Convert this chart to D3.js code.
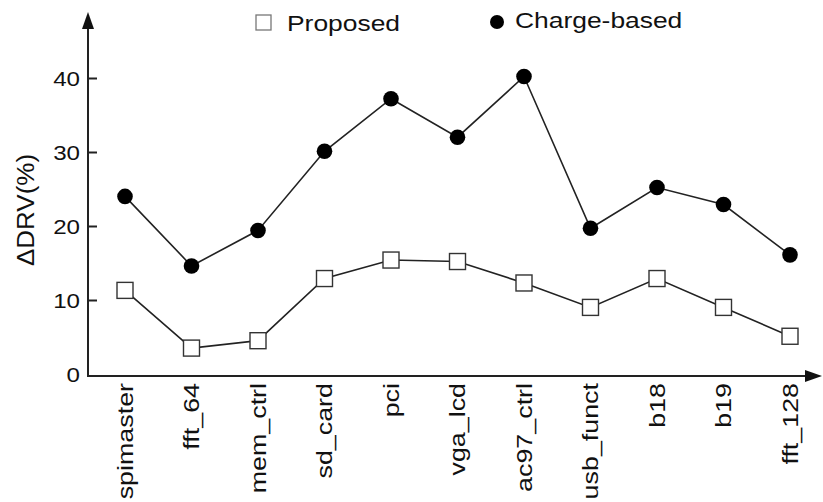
<!DOCTYPE html>
<html>
<head>
<script src="https://d3js.org/d3.v7.min.js"></script>
<style>
  body { margin: 0; background: #fff; }
  text { font-family: "Liberation Sans", Arial, sans-serif; fill: #111; }
</style>
</head>
<body>
<script>
var categories = ["spimaster", "fft_64", "mem_ctrl", "sd_card", "pci", "vga_lcd",
                  "ac97_ctrl", "usb_funct", "b18", "b19", "fft_128"];
var proposed = [11.3, 3.5, 4.5, 12.9, 15.4, 15.2, 12.3, 9.0, 12.9, 9.0, 5.1];
var chargeBased = [24.0, 14.6, 19.4, 30.1, 37.2, 32.0, 40.2, 19.7, 25.2, 22.9, 16.1];
var yTicks = [0, 10, 20, 30, 40];

var width = 823, height = 502;
var x0 = 88, y0 = 376;

var svg = d3.select("body").append("svg")
    .attr("width", width)
    .attr("height", height);

// the original lettering is wider than Liberation Sans, so stretch it a bit
function widen(sel, k) {
  sel.each(function() {
    var w = this.getComputedTextLength();
    d3.select(this).attr("textLength", w * k).attr("lengthAdjust", "spacingAndGlyphs");
  });
}

var x = d3.scalePoint().domain(categories).range([125, 790]);
var y = d3.scaleLinear().domain([0, 40]).range([374, 78]);

// axes with arrow heads
svg.append("line")
    .attr("x1", x0).attr("y1", y0 + 1).attr("x2", x0).attr("y2", 24)
    .attr("stroke", "#222").attr("stroke-width", 2);
svg.append("path")
    .attr("d", "M" + x0 + ",12L" + (x0 - 6) + ",29L" + (x0 + 6) + ",29Z")
    .attr("fill", "#111");
svg.append("line")
    .attr("x1", x0 - 1).attr("y1", y0).attr("x2", 810).attr("y2", y0)
    .attr("stroke", "#222").attr("stroke-width", 2);
svg.append("path")
    .attr("d", "M822," + y0 + "L805," + (y0 - 6) + "L805," + (y0 + 6) + "Z")
    .attr("fill", "#111");

var yAxis = d3.axisRight(y).tickValues(yTicks).tickSize(9).tickFormat(d3.format("d"));
var gy = svg.append("g").attr("transform", "translate(" + x0 + ",0)").call(yAxis);
gy.select(".domain").remove();
gy.selectAll(".tick line").attr("stroke", "#222").attr("stroke-width", 2);
gy.selectAll(".tick text")
    .attr("x", -8)
    .attr("dy", "0.36em")
    .attr("text-anchor", "end")
    .attr("font-size", 21)
    .attr("fill", "#111")
    .attr("font-family", "Liberation Sans, Arial, sans-serif")
    .call(widen, 1.15);
gy.selectAll(".tick").filter(function(d) { return d === 0; }).select("line").remove();

// category labels
svg.selectAll(".xlab")
    .data(categories)
  .enter().append("text")
    .attr("class", "xlab")
    .attr("transform", function(d) { return "translate(" + x(d) + "," + (y0 + 7) + ") rotate(-90)"; })
    .attr("text-anchor", "end")
    .attr("dy", "0.35em")
    .attr("font-size", 22)
    .text(function(d) { return d; })
    .call(widen, 1.22);

// y label
svg.append("text")
    .attr("transform", "translate(26,210) rotate(-90)")
    .attr("text-anchor", "middle")
    .attr("dy", "0.35em")
    .attr("font-size", 23)
    .text("\u0394DRV(%)")
    .call(widen, 1.13);

var line = d3.line()
    .x(function(d, i) { return x(categories[i]); })
    .y(function(d) { return y(d); });

svg.append("path").datum(chargeBased)
    .attr("d", line).attr("fill", "none")
    .attr("stroke", "#222").attr("stroke-width", 1.6);
svg.append("path").datum(proposed)
    .attr("d", line).attr("fill", "none")
    .attr("stroke", "#222").attr("stroke-width", 1.6);

svg.selectAll(".dot")
    .data(chargeBased)
  .enter().append("circle")
    .attr("cx", function(d, i) { return x(categories[i]); })
    .attr("cy", function(d) { return y(d); })
    .attr("r", 7.8)
    .attr("fill", "#000");

var s = 16;
svg.selectAll(".sq")
    .data(proposed)
  .enter().append("rect")
    .attr("x", function(d, i) { return x(categories[i]) - s / 2; })
    .attr("y", function(d) { return y(d) - s / 2; })
    .attr("width", s).attr("height", s)
    .attr("fill", "#fff")
    .attr("stroke", "#333").attr("stroke-width", 1.4);

// legend
svg.append("rect")
    .attr("x", 256).attr("y", 15).attr("width", 15).attr("height", 15)
    .attr("fill", "#fff").attr("stroke", "#777").attr("stroke-width", 1.3);
svg.append("text")
    .attr("x", 287).attr("y", 31)
    .attr("font-size", 22)
    .text("Proposed")
    .call(widen, 1.2);
svg.append("circle")
    .attr("cx", 497).attr("cy", 22).attr("r", 7)
    .attr("fill", "#000");
svg.append("text")
    .attr("x", 515).attr("y", 28)
    .attr("font-size", 22)
    .text("Charge-based")
    .call(widen, 1.2);
</script>
</body>
</html>
